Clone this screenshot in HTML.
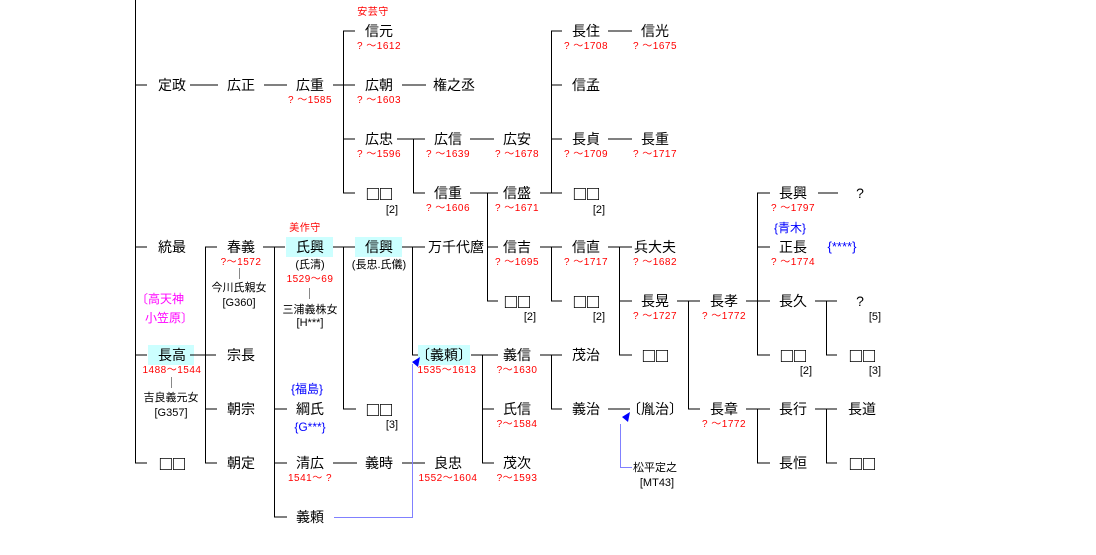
<!DOCTYPE html>
<html><head><meta charset="utf-8"><style>
html,body{margin:0;padding:0;background:#fff;width:1096px;height:555px;overflow:hidden}
svg{display:block}
text{font-family:"Liberation Sans","Noto Sans CJK JP",sans-serif}
.n{font-size:14px;fill:#000;text-anchor:middle;font-family:"Noto Sans CJK JP",sans-serif}
.q{font-size:20px;fill:#000;text-anchor:middle;font-family:"DejaVu Sans",sans-serif;letter-spacing:1px}
.d{font-size:10px;fill:#f00;text-anchor:middle;letter-spacing:0.5px}
.s{font-size:11px;fill:#000;text-anchor:middle}
.b{font-size:12px;fill:#00f;text-anchor:middle}
.m{font-size:12px;fill:#f0f;text-anchor:middle}
</style></head><body>
<svg width="1096" height="555" viewBox="0 0 1096 555" xmlns="http://www.w3.org/2000/svg">
<g fill="#ccffff">
<rect x="286" y="237" width="47" height="20"/>
<rect x="355" y="237" width="47" height="20"/>
<rect x="148" y="345" width="46" height="20"/>
<rect x="418" y="345" width="52" height="20"/>
</g>
<g stroke="#000" stroke-width="1" fill="none" shape-rendering="crispEdges">
<path d="M135.5 0V463M135 85H147M135 247H147M135 355H147M135 463H147"/>
<path d="M190 85H218M264 85H287M333 85H355M402 85H426"/>
<path d="M343.5 31V193M343 31H355M343 139H355M343 193H355"/>
<path d="M397 139H425M413.5 139V193M413 193H425M470 139H494"/>
<path d="M470 193H498M487.5 193V301M487 247H498M487 301H498"/>
<path d="M540 193H562M551.5 31V193M551 31H562M551 85H562M551 139H562"/>
<path d="M608 31H632M608 139H632"/>
<path d="M540 247H562M551.5 247V301M551 301H562"/>
<path d="M608 247H632M619.5 247V355M619 301H632M619 355H632"/>
<path d="M677 301H700M688.5 301V409M688 409H700"/>
<path d="M746 301H770M757.5 193V355M757 193H770M757 247H770M757 355H770M818 193H838"/>
<path d="M815 301H837M826.5 301V355M826 355H837"/>
<path d="M746 409H770M757.5 409V463M757 463H770M815 409H837M826.5 409V463M826 463H837"/>
<path d="M471 355H498M482.5 355V463M482 409H494M482 463H494"/>
<path d="M540 355H562M551.5 355V409M551 409H562M608 409H630"/>
<path d="M190 355H216M205.5 247V463M205 247H217M205 409H217M205 463H217"/>
<path d="M263 247H285M274.5 247V517M274 409H287M274 463H287M274 517H287"/>
<path d="M333 247H355M343.5 247V409M343 409H356"/>
<path d="M402 247H425M412.5 247V355M412 355H418"/>
<path d="M333 463H357M402 463H425"/>
<path stroke="#888" d="M239.5 268V279M171.5 377V388M309.5 288V299"/>
</g>
<g stroke="#8080ff" fill="none">
<path d="M334 517.5H412.5V364"/>
<path d="M632 467.5H620.5V424"/>
</g>
<polygon points="420,357 412,362 418,367" fill="#00f"/>
<polygon points="630,412 622,417 628,422" fill="#00f"/>
<g class="q">
<text x="380" y="200">□□</text><text x="587" y="200">□□</text>
<text x="518" y="308">□□</text><text x="587" y="308">□□</text>
<text x="794" y="362">□□</text><text x="863" y="362">□□</text><text x="656" y="362">□□</text>
<text x="380" y="416">□□</text>
<text x="173" y="470">□□</text><text x="863" y="470">□□</text>
</g>
<g class="n">
<text x="172" y="90">定政</text><text x="241" y="90">広正</text><text x="310" y="90">広重</text>
<text x="379" y="36">信元</text><text x="379" y="90">広朝</text><text x="454" y="90">権之丞</text>
<text x="379" y="144">広忠</text><text x="448" y="144">広信</text><text x="517" y="144">広安</text>
<text x="448" y="198">信重</text><text x="517" y="198">信盛</text>
<text x="586" y="36">長住</text><text x="655" y="36">信光</text><text x="586" y="90">信孟</text>
<text x="586" y="144">長貞</text><text x="655" y="144">長重</text>
<text x="172" y="252">統最</text><text x="241" y="252">春義</text><text x="310" y="252">氏興</text>
<text x="379" y="252">信興</text><text x="456" y="252">万千代麿</text><text x="517" y="252">信吉</text>
<text x="586" y="252">信直</text><text x="655" y="252">兵大夫</text>
<text x="655" y="306">長晃</text><text x="724" y="306">長孝</text>
<text x="793" y="198">長興</text><text x="860" y="198">?</text><text x="793" y="252">正長</text>
<text x="793" y="306">長久</text><text x="860" y="306">?</text>
<text x="172" y="360">長高</text><text x="241" y="360">宗長</text><text x="444" y="360">〔義頼〕</text>
<text x="517" y="360">義信</text><text x="586" y="360">茂治</text>
<text x="241" y="414">朝宗</text><text x="310" y="414">綱氏</text>
<text x="517" y="414">氏信</text><text x="586" y="414">義治</text><text x="655" y="414">〔胤治〕</text>
<text x="724" y="414">長章</text><text x="793" y="414">長行</text><text x="862" y="414">長道</text>
<text x="241" y="468">朝定</text><text x="310" y="468">清広</text>
<text x="379" y="468">義時</text><text x="448" y="468">良忠</text><text x="517" y="468">茂次</text>
<text x="793" y="468">長恒</text>
<text x="310" y="522">義頼</text>
</g>
<g class="d">
<text x="373" y="15">安芸守</text><text x="305" y="231">美作守</text>
<text x="310" y="103">?  〜1585</text><text x="379" y="49">?  〜1612</text><text x="379" y="103">?  〜1603</text>
<text x="379" y="157">?  〜1596</text><text x="448" y="157">?  〜1639</text><text x="517" y="157">?  〜1678</text>
<text x="448" y="211">?  〜1606</text><text x="517" y="211">?  〜1671</text>
<text x="586" y="49">?  〜1708</text><text x="655" y="49">?  〜1675</text>
<text x="586" y="157">?  〜1709</text><text x="655" y="157">?  〜1717</text>
<text x="517" y="265">?  〜1695</text><text x="586" y="265">?  〜1717</text><text x="655" y="265">?  〜1682</text>
<text x="655" y="319">?  〜1727</text><text x="724" y="319">?  〜1772</text><text x="724" y="427">?  〜1772</text>
<text x="793" y="211">?  〜1797</text><text x="793" y="265">?  〜1774</text>
<text x="241" y="265">?〜1572</text><text x="310" y="282">1529〜69</text>
<text x="172" y="373">1488〜1544</text><text x="447" y="373">1535〜1613</text>
<text x="517" y="373">?〜1630</text><text x="517" y="427">?〜1584</text>
<text x="310" y="481">1541〜  ?</text><text x="448" y="481">1552〜1604</text><text x="517" y="481">?〜1593</text>
</g>
<g class="s">
<text x="310" y="268">(氏清)</text><text x="379" y="268">(長忠.氏儀)</text>
<text x="239" y="291">今川氏親女</text><text x="239" y="306">[G360]</text>
<text x="310" y="313">三浦義株女</text><text x="310" y="326">[H***]</text>
<text x="171" y="401">吉良義元女</text><text x="171" y="416">[G357]</text>
<text x="655" y="471">松平定之</text><text x="657" y="486">[MT43]</text>
<text x="392" y="213">[2]</text><text x="530" y="320">[2]</text><text x="599" y="213">[2]</text>
<text x="599" y="320">[2]</text><text x="806" y="374">[2]</text><text x="875" y="374">[3]</text>
<text x="875" y="320">[5]</text><text x="392" y="428">[3]</text>
</g>
<g class="m"><text x="160" y="303">〔高天神</text><text x="169" y="322">小笠原〕</text></g>
<g class="b"><text x="307" y="393">{福島}</text><text x="310" y="431">{G***}</text>
<text x="790" y="232">{青木}</text><text x="842" y="251" style="font-size:13px">{****}</text></g>
</svg>
</body></html>
